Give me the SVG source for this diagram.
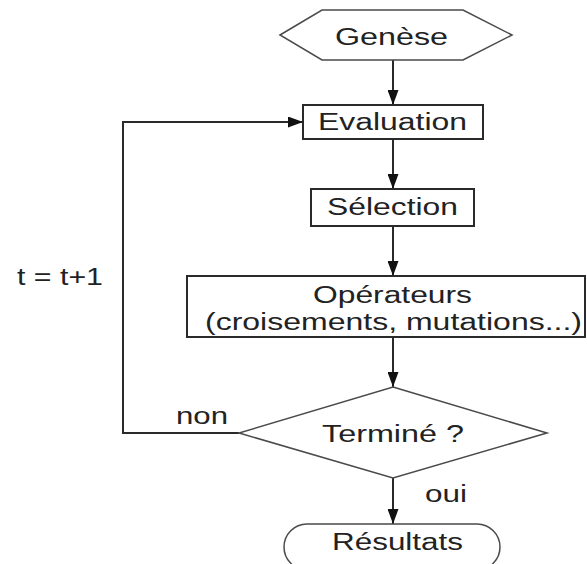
<svg xmlns="http://www.w3.org/2000/svg" width="587" height="564" viewBox="0 0 587 564">
  <style>
    .box { fill: #fff; stroke: #2a2a2a; stroke-width: 2; }
    .thin { fill: #fff; stroke: #4a4a4a; stroke-width: 1.5; }
    .lbl { font-family: "Liberation Sans", Arial, sans-serif; font-size: 23.5px; fill: #222; }
    .mid { text-anchor: middle; }
    .wire { fill: none; stroke: #2a2a2a; stroke-width: 2; }
  </style>
  <defs>
    <marker id="arrow" markerUnits="userSpaceOnUse" markerWidth="15" markerHeight="11" refX="15" refY="5.5" orient="auto">
      <path d="M0,0 L15,5.5 L0,11 z" fill="#111"/>
    </marker>
  </defs>
  <rect width="587" height="564" fill="#fff"/>

  <g id="connectors">
    <line class="wire" x1="393" y1="60" x2="393" y2="105" marker-end="url(#arrow)"/>
    <line class="wire" x1="393" y1="139" x2="393" y2="189" marker-end="url(#arrow)"/>
    <line class="wire" x1="393" y1="226" x2="393" y2="276" marker-end="url(#arrow)"/>
    <line class="wire" x1="393" y1="337" x2="393" y2="387" marker-end="url(#arrow)"/>
    <line class="wire" x1="393" y1="478" x2="393" y2="524" marker-end="url(#arrow)"/>
    <polyline class="wire" points="239,433 123,433 123,122 303,122" marker-end="url(#arrow)"/>
    <text class="lbl" x="17" y="285" textLength="86" lengthAdjust="spacingAndGlyphs">t = t+1</text>
    <text class="lbl" x="176" y="424" textLength="52" lengthAdjust="spacingAndGlyphs">non</text>
    <text class="lbl" x="425" y="502" textLength="42" lengthAdjust="spacingAndGlyphs">oui</text>
  </g>

  <g id="genese">
    <polygon class="thin" points="280,35 322,10 463,10 512,35 463,60 322,60"/>
    <text class="lbl" x="335" y="45" textLength="113" lengthAdjust="spacingAndGlyphs">Genèse</text>
  </g>

  <g id="evaluation">
    <rect class="box" x="303" y="105" width="180" height="34"/>
    <text class="lbl" x="318" y="130" textLength="149" lengthAdjust="spacingAndGlyphs">Evaluation</text>
  </g>

  <g id="selection">
    <rect class="box" x="311" y="189" width="163" height="37"/>
    <text class="lbl" x="327" y="215" textLength="131" lengthAdjust="spacingAndGlyphs">Sélection</text>
  </g>

  <g id="operateurs">
    <rect class="box" x="187" y="276" width="398" height="61"/>
    <text class="lbl" x="313" y="303" textLength="159" lengthAdjust="spacingAndGlyphs">Opérateurs</text>
    <text class="lbl" x="205" y="330" textLength="377" lengthAdjust="spacingAndGlyphs">(croisements, mutations...)</text>
  </g>

  <g id="termine">
    <polygon class="thin" points="393,387 547,433 393,478 239,433"/>
    <text class="lbl" x="322" y="442" textLength="142" lengthAdjust="spacingAndGlyphs">Terminé ?</text>
  </g>

  <g id="resultats">
    <rect class="thin" x="284" y="524" width="216" height="46" rx="23" ry="23"/>
    <text class="lbl" x="332" y="550" textLength="131" lengthAdjust="spacingAndGlyphs">Résultats</text>
  </g>
</svg>
